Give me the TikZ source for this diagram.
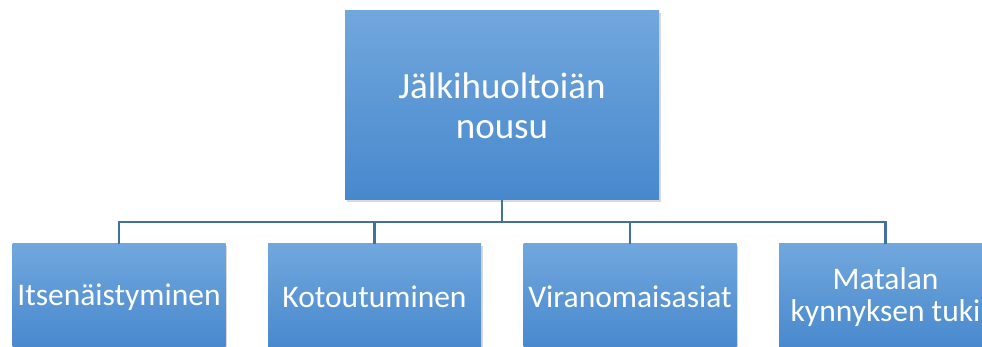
\documentclass[tikz,border=0pt]{standalone}
\usepackage{fontspec}
\setmainfont{Carlito}
\usetikzlibrary{shadows}
\definecolor{boxtop}{HTML}{71A7DD}
\definecolor{boxbot}{HTML}{4788CD}
\definecolor{linkblue}{HTML}{41719C}
\tikzstyle{root} = [rectangle, minimum width=314pt, minimum height=189pt, text centered, align=center, top color=boxtop, bottom color=boxbot, draw=none, text=white, font=\fontsize{37}{40}\selectfont, drop shadow={shadow xshift=1.5pt, shadow yshift=-2.5pt, opacity=0.3}]
\tikzstyle{child} = [rectangle, minimum width=213pt, minimum height=106pt, text centered, align=center, top color=boxtop, bottom color=boxbot, draw=none, text=white, font=\fontsize{31.5}{32}\selectfont, drop shadow={shadow xshift=1.5pt, shadow yshift=-2.5pt, opacity=0.3}]
\tikzstyle{link} = [linkblue, line width=2.5pt]

\begin{document}
\begin{tikzpicture}[node distance=255.5pt]
\useasboundingbox (0,0) rectangle (982pt,-347pt);
\node (nousu) [root] at (502pt,-105.5pt) {Jälkihuoltoiän\\nousu};
\node (itse) [child, below of=nousu, xshift=-383pt, yshift=64pt] {Itsenäistyminen};
\node (koto) [child, right of=itse] {Kotoutuminen};
\node (viran) [child, right of=koto] {Viranomaisasiat};
\node (matala) [child, right of=viran] {Matalan\\kynnyksen tuki};
\coordinate (hub) at ([yshift=-22pt]nousu.south);

\draw [link](nousu) -- (hub);
\draw [link](hub) -| (itse);
\draw [link](hub) -| (koto);
\draw [link](hub) -| (viran);
\draw [link](hub) -| (matala);
\end{tikzpicture}
\end{document}
